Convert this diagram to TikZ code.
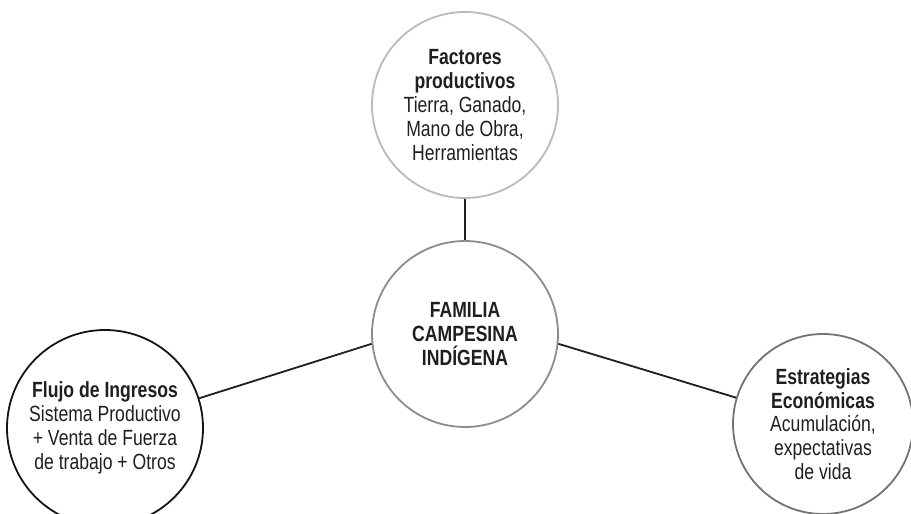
\documentclass[tikz,border=0pt]{standalone}
\usepackage{fontspec}
\setmainfont{Liberation Sans}[FakeStretch=0.8]
\usetikzlibrary{positioning}

\begin{document}
\begin{tikzpicture}[x=1pt, y=-1pt]
      \useasboundingbox (0,0) rectangle (911,514);
      \tikzstyle{CircleStyle} = [circle, draw, line width=1.8pt, inner sep=0pt,
         align=center, text=black!88, font=\fontsize{22}{23.8}\selectfont]
      \tikzstyle{EdgeStyle} = [line width=1.8pt, draw=black!88]
      \node[CircleStyle, draw=black!27, minimum size=186pt] (F) at (465,105)
         {\textbf{Factores}\\\textbf{productivos}\\Tierra, Ganado,\\Mano de Obra,\\Herramientas};
      \node[CircleStyle, draw=black!45, minimum size=186pt] (C) at (465,334)
         {\textbf{FAMILIA}\\\textbf{CAMPESINA}\\\textbf{IND\'IGENA}};
      \node[CircleStyle, draw=black!92, minimum size=196pt] (L) at (105,428)
         {\textbf{Flujo de Ingresos}\\Sistema Productivo\\+ Venta de Fuerza\\de trabajo + Otros};
      \node[CircleStyle, draw=black!55, minimum size=180pt] (R) at (823,424)
         {\textbf{Estrategias}\\\textbf{Econ\'omicas}\\Acumulaci\'on,\\expectativas\\de vida};
      \draw[EdgeStyle] (F) -- (C);
      \draw[EdgeStyle] (C.186.6) -- (L);
      \draw[EdgeStyle] (C.-6.7) -- (R);
\end{tikzpicture}
\end{document}
